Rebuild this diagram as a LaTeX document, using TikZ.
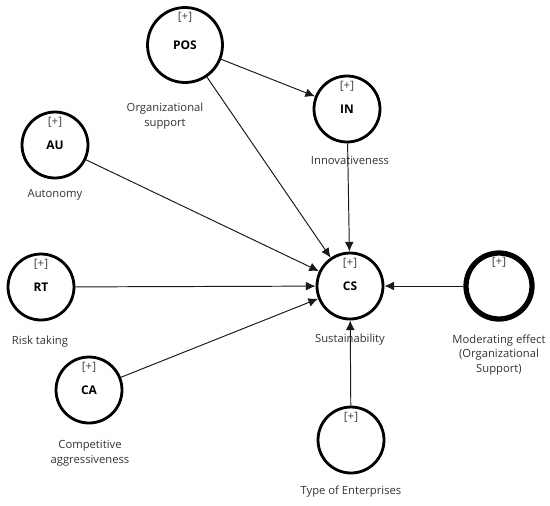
\documentclass[tikz,border=0pt]{standalone}
\usepackage{fontspec}
\setmainfont{Open Sans}
\usetikzlibrary{arrows.meta}

\begin{document}
\begin{tikzpicture}[
    x=0.02cm,
    y=-0.02cm,
    font=\fontsize{6.4}{8.5}\selectfont,
    >={Latex[length=5.5pt,width=5pt]},
    construct/.style={
        circle,
        draw,
        line width=1.6pt,
        minimum size=1.32cm,
        inner sep=0pt,
        font=\fontsize{6.8}{8}\selectfont\bfseries,
        label={[anchor=north,inner sep=0pt,yshift=-3.5pt,font=\fontsize{6.6}{8}\selectfont,text=black!75]north:{[+]}}
    },
    moderator/.style={
        construct,
        line width=3pt
    },
    caption/.style={
        align=center,
        text=black!80,
        inner sep=0pt
    },
    path/.style={
        ->,
        line width=0.55pt,
        draw=black!90
    }
]
\useasboundingbox (0,0) rectangle (550,505);

% constructs
\node[construct, minimum size=1.5cm] (pos) at (185,45) {POS};
\node[construct] (in) at (347,109) {IN};
\node[construct] (au) at (55,145) {AU};
\node[construct] (rt) at (41,287) {RT};
\node[construct] (ca) at (89,390) {CA};
\node[construct] (cs) at (350,286) {CS};
\node[moderator] (me) at (499,286) {};
\node[construct] (te) at (351,440) {};

% captions
\node[caption] (pos-text) at (165,116) {Organizational\\support};
\node[caption] (in-text) at (350,160) {Innovativeness};
\node[caption] (au-text) at (55,195) {Autonomy};
\node[caption] (rt-text) at (40,342) {Risk taking};
\node[caption] (ca-text) at (90,453) {Competitive\\aggressiveness};
\node[caption] (cs-text) at (350,340) {Sustainability};
\node[caption] (me-text) at (499,355) {Moderating effect\\(Organizational\\Support)};
\node[caption] (te-text) at (351,492) {Type of Enterprises};

% structural paths
\draw[path] (pos) -- (in);
\draw[path] (pos) -- (cs);
\draw[path] (in) -- (cs);
\draw[path] (au) -- (cs);
\draw[path] (rt) -- (cs);
\draw[path] (ca) -- (cs);
\draw[path] (me) -- (cs);
\draw[path] (te) -- (cs);

\end{tikzpicture}
\end{document}
